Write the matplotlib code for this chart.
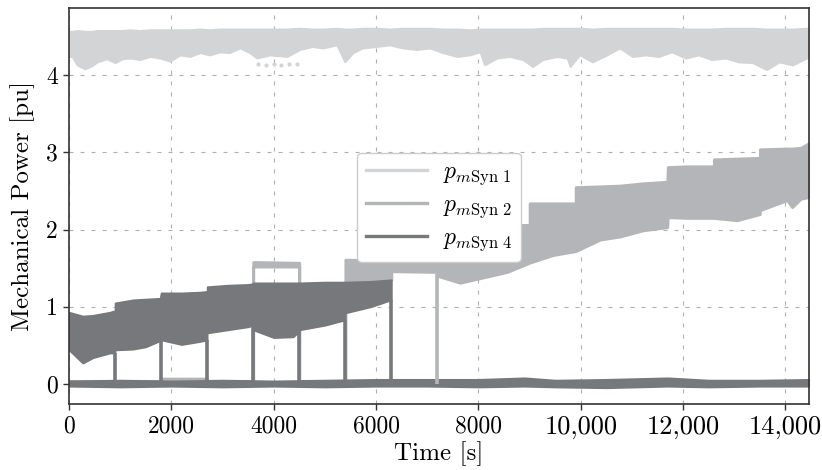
"""
Mechanical power of the synchronous units over the dispatch horizon.
Each unit is drawn as a min/max envelope band of its fast-varying output.
"""

import matplotlib
matplotlib.use("Agg")
import matplotlib.pyplot as plt
import numpy as np

# --- envelope data [s] / [pu] ---
syn1_t = [0, 60, 160, 310, 450, 550, 740, 900, 1040, 1190, 1390, 1580, 1780, 1970, 2170,
          2360, 2560, 2750, 2950, 3140, 3340, 3530, 3670, 3930, 4260, 4510, 4760, 4960,
          5230, 5390, 5550, 5740, 6010, 6270, 6520, 6800, 7050, 7300, 7580, 7830, 8030,
          8120, 8360, 8610, 8870, 9060, 9260, 9530, 9730, 9790, 9980, 10230, 10510, 10760,
          11010, 11270, 11520, 11780, 12050, 12300, 12560, 12830, 13080, 13360, 13630,
          13880, 14140, 14410, 14460]
syn1_lo = [4.24, 4.24, 4.13, 4.08, 4.12, 4.17, 4.21, 4.16, 4.21, 4.22, 4.20, 4.24, 4.22, 4.18, 4.26,
           4.24, 4.29, 4.26, 4.30, 4.29, 4.35, 4.29, 4.22, 4.26, 4.24, 4.33, 4.37, 4.35,
           4.39, 4.17, 4.29, 4.35, 4.37, 4.39, 4.35, 4.33, 4.35, 4.29, 4.24, 4.26, 4.30,
           4.13, 4.22, 4.24, 4.20, 4.11, 4.20, 4.24, 4.22, 4.11, 4.26, 4.17, 4.26, 4.35,
           4.24, 4.26, 4.24, 4.30, 4.22, 4.26, 4.20, 4.22, 4.17, 4.16, 4.07,
           4.17, 4.13, 4.22, 4.22]
syn1_hi = [4.57, 4.57, 4.58, 4.57, 4.57, 4.58, 4.58, 4.58, 4.58, 4.59, 4.58, 4.59, 4.59, 4.59, 4.59,
           4.59, 4.60, 4.59, 4.60, 4.60, 4.60, 4.60, 4.60, 4.60, 4.60, 4.61, 4.60, 4.60,
           4.61, 4.60, 4.60, 4.61, 4.61, 4.60, 4.61, 4.61, 4.61, 4.60, 4.60, 4.59, 4.60,
           4.60, 4.60, 4.60, 4.60, 4.60, 4.61, 4.61, 4.61, 4.61, 4.61, 4.60, 4.61, 4.61,
           4.61, 4.61, 4.61, 4.61, 4.60, 4.60, 4.60, 4.61, 4.61, 4.61, 4.60,
           4.60, 4.60, 4.61, 4.61]
syn1_dots_t = [3700, 3850, 4000, 4150, 4300, 4450]
syn1_dots_p = [4.15, 4.13, 4.14, 4.13, 4.14, 4.15]

syn2_t = [0, 1800, 1800, 2700, 2700, 3600, 3600, 4500, 4500, 5400, 5400, 6300, 6300,
          7200, 7200, 7640, 8100, 8100, 8560, 9000, 9000, 9460, 9900, 9900, 10380, 10770,
          11220, 11690, 11700, 12100, 12600, 12600, 13055, 13500, 13500, 14030, 14130,
          14300, 14460]
syn2_lo = [0.00, 0.00, 0.02, 0.02, 0.00, 0.00, 1.52, 1.52, 0.00, 0.00, 1.32, 1.35, 1.46,
           1.45, 1.40, 1.31, 1.38, 1.38, 1.45, 1.57, 1.57, 1.67, 1.72, 1.72, 1.87, 1.91,
           1.99, 2.03, 2.16, 2.15, 2.15, 2.15, 2.12, 2.20, 2.25, 2.38, 2.29,
           2.40, 2.42]
syn2_hi = [0.04, 0.04, 0.07, 0.07, 0.04, 0.04, 1.58, 1.57, 0.04, 0.04, 1.61, 1.60, 1.66,
           1.70, 1.85, 1.88, 1.90, 2.06, 2.06, 2.06, 2.34, 2.34, 2.34, 2.55, 2.56, 2.57,
           2.60, 2.62, 2.81, 2.82, 2.82, 2.91, 2.92, 2.93, 3.04, 3.05, 3.05,
           3.06, 3.12]
syn2_drop_t = [7200]
syn2_drop_top = [1.42]

syn4_t = [0, 270, 470, 800, 900, 900, 1250, 1500, 1780, 1800, 2200, 2560, 2700, 2700,
          3100, 3500, 3600, 3600, 4000, 4380, 4500, 4500, 5000, 5400, 5400, 5900, 6300]
syn4_lo = [0.44, 0.27, 0.34, 0.40, 0.40, 0.44, 0.45, 0.48, 0.56, 0.57, 0.51, 0.55, 0.57, 0.66,
           0.70, 0.74, 0.76, 0.70, 0.60, 0.61, 0.68, 0.70, 0.76, 0.83, 0.92, 1.00, 1.09]
syn4_hi = [0.93, 0.88, 0.89, 0.93, 0.95, 1.05, 1.09, 1.10, 1.11, 1.18, 1.18, 1.19, 1.20, 1.26,
           1.28, 1.29, 1.30, 1.31, 1.31, 1.31, 1.31, 1.31, 1.32, 1.32, 1.32, 1.33, 1.35]
syn4_drop_t = [900, 1800, 2700, 3600, 4500, 5400, 6300]

# units idling around zero
idle_t = [0, 1000, 2000, 3000, 4000, 5000, 6000, 7000, 8000, 8900, 9500, 10500,
          11700, 12500, 13500, 14460]
idle_lo = [-0.03, -0.04, -0.03, -0.04, -0.03, -0.04, -0.03, -0.03, -0.04, -0.03, -0.04,
           -0.05, -0.03, -0.04, -0.03, -0.03]
idle_hi = [0.04, 0.05, 0.04, 0.05, 0.04, 0.05, 0.06, 0.06, 0.06, 0.08, 0.05, 0.06,
           0.08, 0.05, 0.05, 0.06]

x_ticks = [0, 2000, 4000, 6000, 8000, 10000, 12000, 14000]
y_ticks = [0, 1, 2, 3, 4]
labels = [r"$p_{m\mathrm{Syn}\ 1}$", r"$p_{m\mathrm{Syn}\ 2}$", r"$p_{m\mathrm{Syn}\ 4}$"]
colors = ["#d3d4d6", "#b4b5b8", "#77787c"]

plt.rcParams.update({
    "font.family": "serif",
    "font.serif": ["cmr10"],
    "mathtext.fontset": "cm",
    "axes.formatter.use_mathtext": True,
    "font.size": 17,
})

fig = plt.figure(figsize=(8.22, 4.70), dpi=100)
ax = fig.add_axes([0.0839, 0.1404, 0.9003, 0.8426])

ax.fill_between(syn1_t, syn1_lo, syn1_hi, color=colors[0], linewidth=1.2)
ax.scatter(syn1_dots_t, syn1_dots_p, s=4, color=colors[0], zorder=2)

ax.fill_between(syn2_t, syn2_lo, syn2_hi, color=colors[1], linewidth=2.0)
ax.vlines(syn2_drop_t, 0, syn2_drop_top, color=colors[1], linewidth=2.6)

ax.fill_between(idle_t, idle_lo, idle_hi, color=colors[2], linewidth=1.2)
ax.fill_between(syn4_t, syn4_lo, syn4_hi, color=colors[2], linewidth=1.2)
drop_tops = [syn4_lo[syn4_t.index(t)] for t in syn4_drop_t]
ax.vlines(syn4_drop_t, 0, drop_tops, color=colors[2], linewidth=2.6)

# legend proxies
for c, lab in zip(colors, labels):
    ax.plot([], [], color=c, linewidth=2.4, label=lab)

ax.set_xlim(0, 14460)
ax.set_ylim(-0.26, 4.87)
ax.set_xticks(x_ticks)
ax.set_xticklabels([f"{v:,}" if v >= 10000 else f"{v}" for v in x_ticks])
for lbl, v in zip(ax.get_xticklabels(), x_ticks):
    lbl.set_fontsize(19 if v >= 10000 else 17)
ax.set_yticks(y_ticks)
ax.set_yticklabels([str(v) for v in y_ticks])
ax.tick_params(direction="out", length=4, width=1.0, color="#333333", pad=4)

ax.grid(True, color="#b0b0b0", linewidth=0.8, linestyle=(0, (3.6, 6.3)))
ax.set_axisbelow(True)
for s in ax.spines.values():
    s.set_color("#333333")
    s.set_linewidth(1.2)

ax.set_xlabel("Time [s]", fontsize=18, labelpad=2)
ax.set_ylabel("Mechanical Power [pu]", fontsize=18, labelpad=8)

leg = ax.legend(loc="center", bbox_to_anchor=(0.5, 0.497), fontsize=17,
                handlelength=2.6, handletextpad=0.7, labelspacing=0.3,
                borderpad=0.35, framealpha=1.0, edgecolor="#cccccc", fancybox=True)
leg.get_frame().set_linewidth(1.0)

fig.savefig("out.png", dpi=100)
